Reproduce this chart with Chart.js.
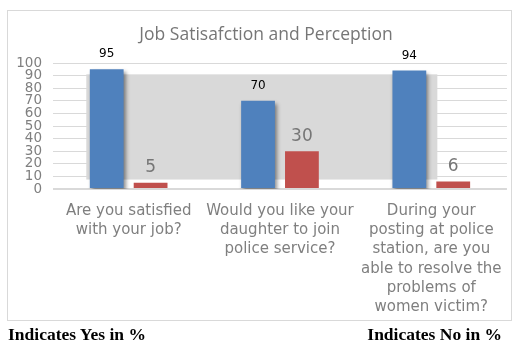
<!DOCTYPE html>
<html>
<head>
<meta charset="utf-8">
<script src="https://cdn.jsdelivr.net/npm/chart.js@4/dist/chart.umd.min.js"></script>
<style>
  html, body { margin: 0; padding: 0; background: #fff; }
  #wrap { position: relative; width: 514px; height: 342px; overflow: hidden; }
  #frame { position: absolute; left: 7px; top: 10px; width: 503px; height: 309px; border: 1px solid #d9d9d9; }
  #chart { position: absolute; left: 0; top: 0; }
  #title { position: absolute; left: 66px; width: 400px; top: 22px; text-align: center; font: 17.5px/22px "Open Sans", sans-serif; color: #767676; white-space: nowrap; }
  .note { position: absolute; top: 324px; font: bold 17.5px/20px "Liberation Serif", "Times New Roman", serif; color: #000; white-space: nowrap; }
  #noteYes { left: 8px; }
  #noteNo { right: 12px; }
</style>
</head>
<body>
<div id="wrap">
  <div id="frame"></div>
  <canvas id="chart" width="514" height="342"></canvas>
  <div id="title">Job Satisafction and Perception</div>
  <div class="note" id="noteYes">Indicates Yes in %</div>
  <div class="note" id="noteNo">Indicates No in %</div>
</div>
<script>
/* ─── DATA ────────────────────────────────────────────── */
const QUESTIONS = [
  ['Are you satisfied', 'with your job?'],
  ['Would you like your', 'daughter to join', 'police service?'],
  ['During your', 'posting at police', 'station, are you', 'able to resolve the', 'problems of', 'women victim?'],
]
const YES_PCT = [95, 70, 94]
const NO_PCT  = [5, 30, 6]

/* ─── BACK WALL (category index / value units) ────────── */
const WALL_X = [-0.28, 2.04]
const WALL_Y = [7.5, 91]

const GREY = '#7f7f7f'

// grey back panel drawn between grid and bars
const backWall = {
  id: 'backWall',
  beforeDatasetsDraw(chart) {
    const { ctx, scales: { x, y } } = chart
    const x0 = x.getPixelForValue(WALL_X[0]), x1 = x.getPixelForValue(WALL_X[1])
    const y0 = y.getPixelForValue(WALL_Y[1]), y1 = y.getPixelForValue(WALL_Y[0])
    ctx.save()
    ctx.fillStyle = '#d9d9d9'
    ctx.fillRect(x0, y0, x1 - x0, y1 - y0)
    ctx.restore()
  },
  // soft drop shadow on the blue bars only
  beforeDatasetDraw(chart, args) {
    const { ctx } = chart
    ctx.save()
    if (args.index === 0) {
      ctx.shadowColor = 'rgba(0,0,0,0.45)'
      ctx.shadowBlur = 4
      ctx.shadowOffsetX = 2
      ctx.shadowOffsetY = 3
    }
  },
  afterDatasetDraw(chart) {
    chart.ctx.restore()
  },
}

// value labels above each bar
const valueLabels = {
  id: 'valueLabels',
  afterDatasetsDraw(chart) {
    const { ctx } = chart
    ctx.save()
    ctx.textAlign = 'center'
    ctx.textBaseline = 'middle'
    chart.data.datasets.forEach((ds, di) => {
      const meta = chart.getDatasetMeta(di)
      meta.data.forEach((bar, i) => {
        if (di === 0) {
          ctx.font = '12px "DejaVu Sans", sans-serif'
          ctx.fillStyle = '#000'
        } else {
          ctx.font = '17px "DejaVu Sans", sans-serif'
          ctx.fillStyle = '#767676'
        }
        ctx.fillText(String(ds.data[i]), bar.x, bar.y - 15)
      })
    })
    ctx.restore()
  },
}

new Chart(document.getElementById('chart'), {
  type: 'bar',
  data: {
    labels: QUESTIONS,
    datasets: [
      { label: 'Yes', data: YES_PCT, backgroundColor: '#4f81bd' },
      { label: 'No',  data: NO_PCT,  backgroundColor: '#c0504d' },
    ],
  },
  options: {
    responsive: false,
    animation: false,
    categoryPercentage: 0.58,
    barPercentage: 0.77,
    layout: { padding: { left: 8, right: 3, top: 63, bottom: 29 } },
    plugins: {
      legend: { display: false },
      tooltip: { enabled: false },
      title: { display: false },
    },
    scales: {
      x: {
        grid: { display: false, drawTicks: false },
        border: { display: false },
        ticks: {
          color: GREY,
          maxRotation: 0,
          autoSkip: false,
          padding: 12,
          font: { family: '"DejaVu Sans", sans-serif', size: 15, lineHeight: 1.29 },
        },
        afterFit: s => { s.height = 124 },
      },
      y: {
        min: 0,
        max: 100,
        border: { display: false },
        grid: {
          color: '#d9d9d9',
          drawTicks: false,
          lineWidth: ctx => (ctx.tick && ctx.tick.value === 0 ? 2 : 1),
        },
        ticks: {
          stepSize: 10,
          autoSkip: false,
          color: GREY,
          padding: 11,
          font: { family: '"DejaVu Sans", sans-serif', size: 13.5, lineHeight: 1 },
        },
        afterFit: s => { s.width = 45 },
      },
    },
  },
  plugins: [backWall, valueLabels],
})
</script>
</body>
</html>
